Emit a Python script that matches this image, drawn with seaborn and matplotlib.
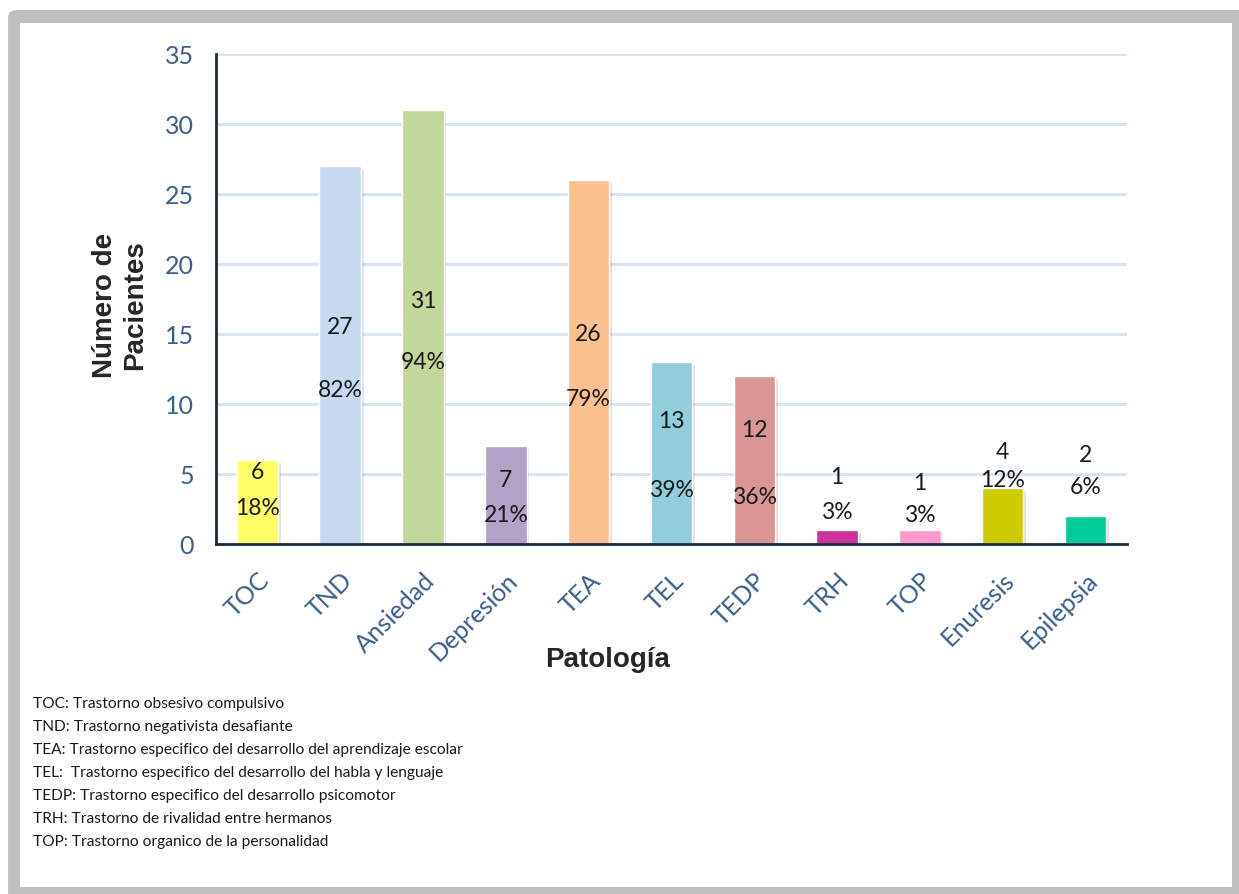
import matplotlib
matplotlib.use("Agg")
import matplotlib.pyplot as plt
import matplotlib.patheffects as pe
from matplotlib.patches import FancyBboxPatch, Rectangle
import seaborn as sns

# Datos
categorias = ['TOC', 'TND', 'Ansiedad', 'Depresión', 'TEA', 'TEL', 'TEDP',
              'TRH', 'TOP', 'Enuresis', 'Epilepsia']
pacientes = [6, 27, 31, 7, 26, 13, 12, 1, 1, 4, 2]
porcentajes = ['18%', '82%', '94%', '21%', '79%', '39%', '36%', '3%', '3%', '12%', '6%']
colores = ['#FFFF66', '#C6D9F0', '#C3D69B', '#B2A2C7', '#FAC090', '#92CDDC',
           '#D99694', '#CC3399', '#FF99CC', '#CCCC00', '#00CC99']

# altura de las etiquetas (en unidades del eje)
y_valor = [5.2, 15.5, 17.4, 4.6, 15.0, 8.8, 8.2, 4.8, 4.4, 6.6, 6.4]
y_pct = [2.6, 11.0, 13.0, 2.1, 10.4, 3.9, 3.4, 2.3, 2.1, 4.6, 4.1]

notas = [
    'TOC: Trastorno obsesivo compulsivo',
    'TND: Trastorno negativista desafiante',
    'TEA: Trastorno especifico del desarrollo del aprendizaje escolar',
    'TEL:  Trastorno especifico del desarrollo del habla y lenguaje',
    'TEDP: Trastorno especifico del desarrollo psicomotor',
    'TRH: Trastorno de rivalidad entre hermanos',
    'TOP: Trastorno organico de la personalidad',
]

sns.set_style('white')
plt.rcParams['font.family'] = ['Lato', 'DejaVu Sans']

azul = '#3B5E8C'
eje = '#1B2A41'

fig = plt.figure(figsize=(12.39, 8.95), dpi=100)

# marco gris
fig.patches.append(FancyBboxPatch((0.0065, -0.02), 1.0, 1.0077, boxstyle='round,pad=0,rounding_size=0.008',
                                  transform=fig.transFigure, facecolor='#BFBFBF', edgecolor='none', zorder=-2))
fig.patches.append(Rectangle((0.0161, 0.0078), 0.9782, 0.9654, transform=fig.transFigure,
                             facecolor='white', edgecolor='none', zorder=-1))

ax = fig.add_axes([0.1743, 0.3911, 0.7353, 0.5475])
ax.set_facecolor('none')

sns.barplot(x=categorias, y=pacientes, hue=categorias, palette=colores, legend=False,
            width=0.5, saturation=1, ax=ax, zorder=3)

for p in ax.patches:
    p.set_path_effects([pe.SimplePatchShadow(offset=(2, -2), alpha=0.15), pe.Normal()])

for i in range(len(categorias)):
    ax.text(i, y_valor[i], str(pacientes[i]), ha='center', va='center', fontsize=16.5,
            color='#1a1a1a', zorder=5)
    ax.text(i, y_pct[i], porcentajes[i], ha='center', va='center', fontsize=16.5,
            color='#1a1a1a', zorder=5)

ax.set_ylim(0, 35)
ax.set_xlim(-0.5, len(categorias) - 0.5)
ax.set_yticks(range(0, 36, 5))
ax.yaxis.grid(True, color='#DAE5F3', linewidth=2.2, zorder=0)
ax.set_axisbelow(True)

for s in ['top', 'right']:
    ax.spines[s].set_visible(False)
for s in ['left', 'bottom']:
    ax.spines[s].set_color(eje)
    ax.spines[s].set_linewidth(2)
    ax.spines[s].set_zorder(6)

ax.tick_params(axis='y', length=0, pad=16, labelsize=18, labelcolor=azul)
ax.tick_params(axis='x', length=0, pad=17, labelsize=18, labelcolor=azul)
plt.setp(ax.get_xticklabels(), rotation=45, ha='right', rotation_mode='anchor')

ax.set_xlabel('')
ax.set_ylabel('')

fig.text(0.0969, 0.659, 'Número de\nPacientes', rotation=90, ha='center', va='center',
         multialignment='center', fontsize=20, fontweight='bold', family='Liberation Sans')
fig.text(0.4907, 0.2626, 'Patología', ha='center', va='center',
         fontsize=20, fontweight='bold', family='Liberation Sans')

for k, linea in enumerate(notas):
    fig.text(33 / 1239, (895 - 704 - 23 * k) / 895, linea, ha='left', va='center',
             fontsize=11.2, color='#1a1a1a')

fig.savefig('out.png', dpi=100)
